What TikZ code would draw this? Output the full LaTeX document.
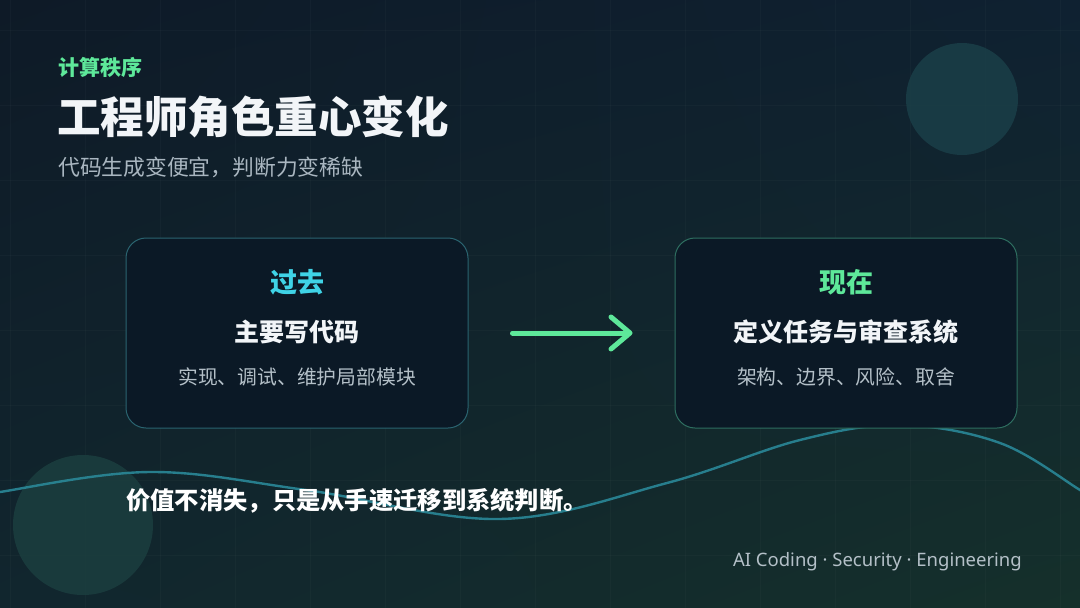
\documentclass[tikz,border=0pt]{standalone}
\usepackage{fontspec}
\setmainfont{Noto Sans CJK SC}
\newfontfamily\latinsans{Noto Sans}
\usetikzlibrary{arrows.meta,shadings}
\definecolor{bgTL}{HTML}{0E1A27}
\definecolor{bgTR}{HTML}{0F2131}
\definecolor{bgBL}{HTML}{11262E}
\definecolor{bgBR}{HTML}{15302B}
\definecolor{accgreen}{HTML}{5EE89A}
\definecolor{acccyan}{HTML}{3FD3E6}
\definecolor{subgray}{HTML}{A9B6C0}
\definecolor{descgray}{HTML}{B4C0C8}
\definecolor{titlewhite}{HTML}{F2F5F8}
\definecolor{boxfill}{HTML}{0B1926}
\definecolor{pastedge}{HTML}{2A6470}
\definecolor{nowedge}{HTML}{2E6E60}
\definecolor{wavec}{HTML}{2A8898}
\definecolor{circc}{HTML}{1A3F48}
\definecolor{circd}{HTML}{1B3E3F}
\tikzset{
  box/.style={rounded corners=20pt, fill=boxfill, line width=1pt, minimum width=342pt, minimum height=190pt, inner sep=0pt},
  head/.style={font=\bfseries\fontsize{27}{32}\selectfont, anchor=center},
  role/.style={font=\bfseries\fontsize{25}{30}\selectfont, text=titlewhite, anchor=center},
  desc/.style={font=\fontsize{19.8}{24}\selectfont, text=descgray, anchor=center},
  wave/.style={draw=wavec, line width=2.4pt, opacity=0.9},
  flow/.style={draw=accgreen, line width=5pt, line cap=round, -{Straight Barb[length=19pt,width=32pt,line cap=round,line join=round]}},
  gridline/.style={draw=white, opacity=0.022, line width=0.8pt}
}
\begin{document}
\begin{tikzpicture}[x=1pt,y=-1pt]
\useasboundingbox (0,0) rectangle (1080,608);
\shade[upper left=bgTL, upper right=bgTR, lower left=bgBL, lower right=bgBR] (0,0) rectangle (1080,608);
\clip (0,0) rectangle (1080,608);
% faint grid
\foreach \gx in {10,85,160,235,310,385,460,535,610,685,760,835,910,985,1060}
  \draw[gridline] (\gx,0) -- (\gx,608);
\foreach \gy in {30,105,180,255,330,405,480,555}
  \draw[gridline] (0,\gy) -- (1080,\gy);
% decorative circles
\fill[circc, opacity=0.85] (962,99) circle (56);
\fill[circd, opacity=0.85] (83,525) circle (70);
% wave
\draw[wave] plot[smooth, tension=0.6] coordinates {(-10,496) (0,492) (150,472) (306,490) (500,519) (667,483) (800,440) (900,425) (1000,443) (1080,490) (1095,500)};
% header
\node[anchor=west, text=accgreen, font=\bfseries\fontsize{21}{25}\selectfont, inner sep=0pt] (kicker) at (58,67) {计算秩序};
\node[anchor=west, text=titlewhite, font=\bfseries\fontsize{43.5}{50}\selectfont, inner sep=0pt] (title) at (57,117) {工程师角色重心变化};
\node[anchor=west, text=subgray, font=\fontsize{21.8}{26}\selectfont, inner sep=0pt] (subtitle) at (58,167) {代码生成变便宜，判断力变稀缺};
% boxes
\node[box, draw=pastedge] (past) at (297,333) {};
\node[box, draw=nowedge] (now) at (846,333) {};
\node[head, text=acccyan] (pastH) at (297,282) {过去};
\node[role] (pastR) at (297,332) {主要写代码};
\node[desc] (pastD) at (297,377) {实现、调试、维护局部模块};
\node[head, text=accgreen] (nowH) at (846,282) {现在};
\node[role] (nowR) at (846,332) {定义任务与审查系统};
\node[desc] (nowD) at (846,377) {架构、边界、风险、取舍};
% arrow
\draw[flow, shorten <=44pt, shorten >=42pt] (past.east) -- (now.west);
% bottom statement
\node[anchor=west, text=white, font=\bfseries\fontsize{24.3}{28}\selectfont, inner sep=0pt] (claim) at (126,501) {价值不消失，只是从手速迁移到系统判断。};
% footer
\node[anchor=east, text=descgray, font=\latinsans\fontsize{18.5}{22}\selectfont, inner sep=0pt] (footer) at (1022,562) {AI Coding · Security · Engineering};
\end{tikzpicture}
\end{document}
